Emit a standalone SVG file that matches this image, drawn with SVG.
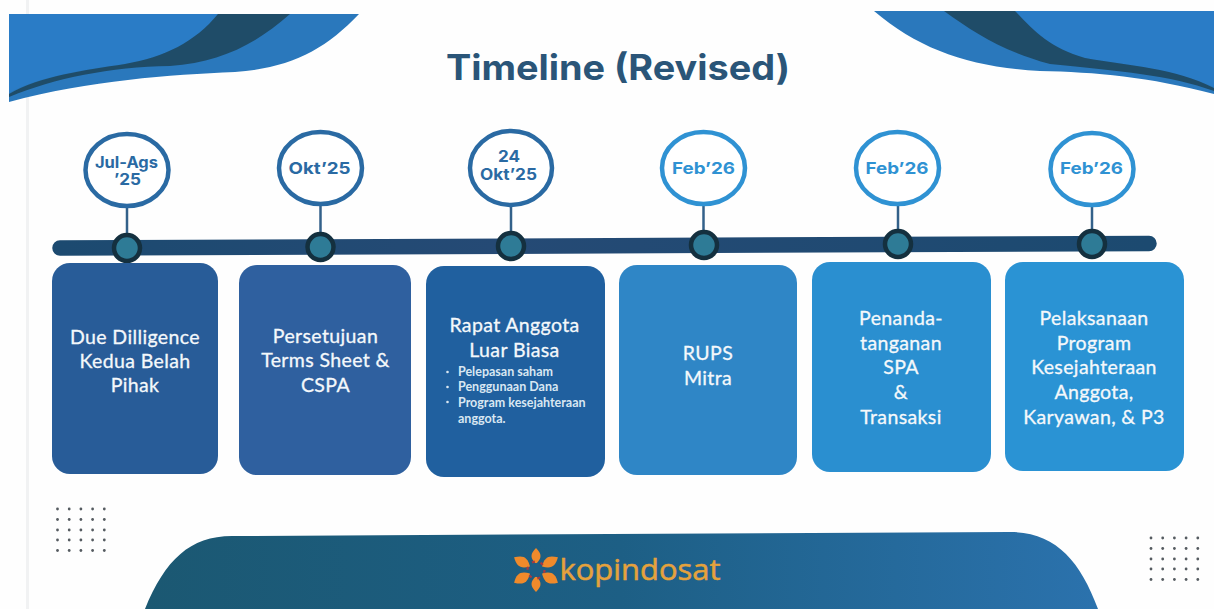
<svg xmlns="http://www.w3.org/2000/svg" width="1214" height="609" viewBox="0 0 1214 609">
<style>
.box{font-family:Lato,"Liberation Sans",sans-serif;font-size:19.5px;letter-spacing:.38px;font-weight:400;fill:#f4f8fb;stroke:#f4f8fb;stroke-width:.3;text-anchor:middle}
.sm{font-family:Lato,"Liberation Sans",sans-serif;font-size:12.500px;font-weight:700;fill:#d9e7f2}
.date{font-family:Inter,"Liberation Sans",sans-serif;font-size:16.500px;font-weight:700;text-anchor:middle}
.date2{font-size:15.500px}
.ring{fill:#fff;stroke-width:4.5}
.d1{stroke:#2a6aa3}.d1t{fill:#2a6aa3}
.d2{stroke:#2f92d3}.d2t{fill:#2f92d3}
.stem{stroke:#33618a;stroke-width:2.5;fill:none}
.knob{fill:#2e7b96;stroke:#14303f;stroke-width:4.5}
</style>
<defs>
<linearGradient id="bar" x1="0" x2="1" y1="0" y2="0"><stop offset="0" stop-color="#1c4a70"/><stop offset="0.4" stop-color="#254a75"/><stop offset="1" stop-color="#1c4a70"/></linearGradient>
<linearGradient id="foot" x1="0" x2="1" y1="0" y2="0"><stop offset="0" stop-color="#1b5872"/><stop offset="0.5" stop-color="#1d5f85"/><stop offset="1" stop-color="#2b72ad"/></linearGradient>
<path id="petal" d="M0 -6C-6 -12 -6 -16 0 -22C6 -16 6 -12 0 -6Z"/>
<g id="dots" fill="#555b60"><circle cx="0" cy="0" r="1.400"/><circle cx="11.700" cy="0" r="1.400"/><circle cx="23.400" cy="0" r="1.400"/><circle cx="35.100" cy="0" r="1.400"/><circle cx="46.800" cy="0" r="1.400"/></g>
</defs>
<rect width="1214" height="609" fill="#fefefe"/>
<rect x="26" y="0" width="3" height="609" fill="#f1f2f3"/>

<g id="wave-left">
<path d="M9 14H359C325 50 290 68 235 72C170 75 90 80 9 102Z" fill="#2a78bc"/>
<path d="M9 14H218C195 42 165 57 125 64C80 70 35 78 9 93Z" fill="#2a7cc6"/>
<path d="M218 14H290C255 45 220 62 170 66C110 67 55 78 9 97V94C40 76 85 70 125 64C165 57 195 42 218 14Z" fill="#1f4c68"/>
</g>
<g id="wave-right">
<path d="M874 11H1214V94C1150 77 1095 72 1040 71C970 67 920 50 874 11Z" fill="#2a78bc"/>
<path d="M1015 11H1214V87C1170 68 1110 63 1085 58C1050 48 1035 32 1015 11Z" fill="#2a7cc6"/>
<path d="M944 11H1015C1035 32 1050 48 1085 58C1130 66 1175 68 1214 88V91C1170 75 1120 71 1050 64C1000 50 975 33 944 11Z" fill="#1f4c68"/>
</g>

<text id="title" x="618" y="80" font-family="Inter,'Liberation Sans',sans-serif" font-size="35" font-weight="700" fill="#2a5578" text-anchor="middle" textLength="344" lengthAdjust="spacingAndGlyphs">Timeline (Revised)</text>

<g id="connectors">
<line x1="60" y1="248" x2="1149" y2="243.500" stroke="url(#bar)" stroke-width="15.500" stroke-linecap="round"/>
<path class="stem" d="M127 207V235"/>
<path class="stem" d="M320.500 205V234"/>
<path class="stem" d="M511 206V233"/>
<path class="stem" d="M703.500 205V232"/>
<path class="stem" d="M898 206V231"/>
<path class="stem" d="M1092 206V231"/>
<circle class="knob" cx="127" cy="248" r="13"/>
<circle class="knob" cx="320.500" cy="247" r="13"/>
<circle class="knob" cx="511" cy="246" r="13"/>
<circle class="knob" cx="704" cy="245" r="13"/>
<circle class="knob" cx="898" cy="244" r="13"/>
<circle class="knob" cx="1092" cy="244" r="13"/>
</g>

<g id="date-1"><ellipse class="ring d1" cx="127" cy="170" rx="41.500" ry="36"/><text class="date date2 d1t" x="126.500" y="168" textLength="63" lengthAdjust="spacingAndGlyphs">Jul-Ags</text><text class="date date2 d1t" x="127.500" y="185" textLength="27" lengthAdjust="spacingAndGlyphs">’25</text></g>
<g id="date-2"><ellipse class="ring d1" cx="320.500" cy="168" rx="41.500" ry="36"/><text class="date d1t" x="319.500" y="173.500" textLength="62" lengthAdjust="spacingAndGlyphs">Okt’25</text></g>
<g id="date-3"><ellipse class="ring d1" cx="511" cy="168" rx="41" ry="37"/><text class="date date2 d1t" x="509" y="162" textLength="22" lengthAdjust="spacingAndGlyphs">24</text><text class="date date2 d1t" x="508.500" y="180" textLength="57" lengthAdjust="spacingAndGlyphs">Okt’25</text></g>
<g id="date-4"><ellipse class="ring d2" cx="703.500" cy="168" rx="41.500" ry="36"/><text class="date d2t" x="703.500" y="174" textLength="63" lengthAdjust="spacingAndGlyphs">Feb’26</text></g>
<g id="date-5"><ellipse class="ring d2" cx="897.500" cy="168" rx="41.500" ry="36"/><text class="date d2t" x="897" y="174" textLength="63" lengthAdjust="spacingAndGlyphs">Feb’26</text></g>
<g id="date-6"><ellipse class="ring d2" cx="1092" cy="169" rx="41.500" ry="36"/><text class="date d2t" x="1091.500" y="173.500" textLength="63" lengthAdjust="spacingAndGlyphs">Feb’26</text></g>

<g id="step-1"><rect x="52" y="263" width="166" height="211" rx="18" fill="#285c98"/><text class="box" x="135" y="344">Due Dilligence</text><text class="box" x="135" y="368">Kedua Belah</text><text class="box" x="135" y="392">Pihak</text></g>
<g id="step-2"><rect x="239" y="265" width="172" height="210" rx="18" fill="#2f609f"/><text class="box" x="325.500" y="343">Persetujuan</text><text class="box" x="325.500" y="367">Terms Sheet &amp;</text><text class="box" x="325.500" y="392">CSPA</text></g>
<g id="step-3"><rect x="426" y="266" width="179" height="211" rx="18" fill="#20609f"/><text class="box" x="514.500" y="332">Rapat Anggota</text><text class="box" x="514.500" y="357">Luar Biasa</text>
<circle cx="447.500" cy="372" r="1.300" fill="#d9e7f2"/><text class="sm" x="458" y="376">Pelepasan saham</text>
<circle cx="447.500" cy="387" r="1.300" fill="#d9e7f2"/><text class="sm" x="458" y="391">Penggunaan Dana</text>
<circle cx="447.500" cy="402" r="1.300" fill="#d9e7f2"/><text class="sm" x="458" y="407">Program kesejahteraan</text><text class="sm" x="458" y="423">anggota.</text></g>
<g id="step-4"><rect x="619" y="265" width="178" height="210" rx="18" fill="#2f86c6"/><text class="box" x="708" y="360">RUPS</text><text class="box" x="708" y="385">Mitra</text></g>
<g id="step-5"><rect x="812" y="262" width="179" height="210" rx="18" fill="#2a8fd0"/><text class="box" x="901" y="325">Penanda-</text><text class="box" x="901" y="350">tanganan</text><text class="box" x="901" y="374">SPA</text><text class="box" x="901" y="399">&amp;</text><text class="box" x="901" y="424">Transaksi</text></g>
<g id="step-6"><rect x="1005" y="262" width="179" height="209" rx="18" fill="#2a93d4"/><text class="box" x="1094" y="325">Pelaksanaan</text><text class="box" x="1094" y="350">Program</text><text class="box" x="1094" y="374">Kesejahteraan</text><text class="box" x="1094" y="399">Anggota,</text><text class="box" x="1094" y="424">Karyawan, &amp; P3</text></g>

<g id="dots-left"><use href="#dots" x="57.500" y="509"/><use href="#dots" x="57.500" y="519.500"/><use href="#dots" x="57.500" y="530"/><use href="#dots" x="57.500" y="540"/><use href="#dots" x="57.500" y="550.500"/></g>
<g id="dots-right"><use href="#dots" x="1151" y="538"/><use href="#dots" x="1151" y="548.500"/><use href="#dots" x="1151" y="559"/><use href="#dots" x="1151" y="569"/><use href="#dots" x="1151" y="579.500"/></g>

<g id="footer">
<path d="M145 609C165 560 190 536 232 536L1010 532C1055 532 1080 560 1098 609Z" fill="url(#foot)"/>
<g id="logo" transform="translate(536 570)">
<g fill="#ef8a2b"><use href="#petal"/><use href="#petal" transform="rotate(60) scale(1.150)"/><use href="#petal" transform="rotate(120) scale(1.150)"/><use href="#petal" transform="rotate(180)"/><use href="#petal" transform="rotate(240) scale(1.150)"/><use href="#petal" transform="rotate(300) scale(1.150)"/></g>
<circle r="7" fill="#1d5f85"/>
<circle r="8.500" fill="none" stroke="#a83a3f" stroke-width="2.200" stroke-dasharray="3 5.900"/>
</g>
<text x="559.500" y="580" font-family="'Open Sans','Liberation Sans',sans-serif" font-size="29" fill="#e5a23c" stroke="#e5a23c" stroke-width=".5" textLength="161" lengthAdjust="spacingAndGlyphs">kopindosat</text>
</g>
</svg>
